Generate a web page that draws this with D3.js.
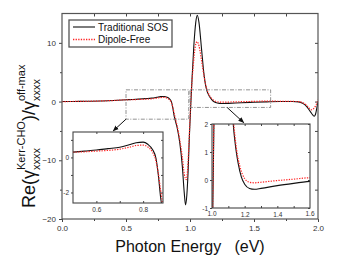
<!DOCTYPE html>
<html>
<head>
<meta charset="utf-8" />
<script src="https://cdn.jsdelivr.net/npm/d3@7"></script>
<style>
  html,body{margin:0;padding:0;background:#fff;}
  svg{display:block;font-family:"Liberation Sans",Arial,sans-serif;}
  .tick text{fill:#333;}
</style>
</head>
<body>
<svg id="svg" width="341" height="262"></svg>
<script>
// photon energy (eV) and Re(gamma) ratio
const sosE = [0,0.1,0.2,0.3,0.4,0.5,0.55,0.6,0.65,0.7,0.74,0.77,0.8,0.82,0.84,0.855,0.865,0.875,0.885,0.9,0.92,0.94,0.955,0.965,0.975,0.985,0.995,1.005,1.015,1.03,1.045,1.057,1.07,1.09,1.11,1.12,1.13,1.14,1.15,1.16,1.18,1.2,1.23,1.26,1.3,1.4,1.5,1.6,1.7,1.8,1.85,1.88,1.91,1.94,1.96,1.97,1.98,1.99,2.0];
const sosV = [0,0.02,0.05,0.1,0.18,0.3,0.36,0.42,0.5,0.58,0.72,0.84,0.87,0.75,0.45,-0.05,-1.0,-2.3,-3.2,-4.5,-7,-11,-15.5,-17.6,-16,-12,-6,-1,3.5,9.5,13.5,14.7,13.5,9,4.5,3.0,2.0,1.4,0.95,0.6,0.1,-0.15,-0.3,-0.33,-0.3,-0.2,-0.12,-0.05,0,0,-0.05,-0.3,-0.8,-1.7,-2.3,-2.5,-2.2,-1.2,0];
const dfE  = [0,0.1,0.2,0.3,0.4,0.5,0.55,0.6,0.65,0.7,0.74,0.77,0.8,0.82,0.84,0.855,0.865,0.875,0.885,0.9,0.92,0.94,0.955,0.97,0.98,0.99,1.0,1.01,1.025,1.04,1.055,1.07,1.09,1.11,1.12,1.13,1.14,1.15,1.17,1.2,1.23,1.26,1.3,1.4,1.5,1.6,1.7,1.8,1.85,1.88,1.91,1.93,1.95,1.97,1.99,2.0];
const dfV  = [0,0.02,0.05,0.1,0.18,0.3,0.32,0.36,0.4,0.47,0.58,0.68,0.7,0.6,0.3,-0.2,-0.9,-1.9,-2.8,-4.2,-6.5,-9.5,-12.3,-13.3,-12,-8,-3,1.5,6,9.2,10.2,9.5,7,4.3,3.1,2.2,1.6,1.1,0.5,0.05,-0.08,-0.1,-0.08,-0.02,0.03,0.08,0.05,0.02,0,-0.2,-0.6,-1.1,-1.4,-1.1,-0.3,0.3];

const seriesNames = ['Traditional SOS','Dipole-Free'];
const xTicks = [0,0.5,1.0,1.5,2.0];
const yTicks = [-20,-10,0,10];
// zoom boxes [x0,x1,y0,y1] in data units, and arrows [[x,y],[x,y]]
const boxes  = [[0.5,0.99,-3,2],[1.0,1.63,-1,2]];
const arrows = [[[0.5,-3],[0.4,-5]],[[1.29,-1],[1.42,-3.6]]];

const sos = sosE.map((e,i)=>[e,sosV[i]]);
const df  = dfE.map((e,i)=>[e,dfV[i]]);

const svg = d3.select('#svg');
const defs = svg.append('defs');
defs.append('marker').attr('id','arr').attr('viewBox','0 0 10 10')
  .attr('refX',9).attr('refY',5).attr('markerWidth',6).attr('markerHeight',6)
  .attr('orient','auto').append('path').attr('d','M0,1L10,5L0,9z').attr('fill','#111');

const x = d3.scaleLinear([0,2],[62,318]);
const y = d3.scaleLinear([-20,15],[219,13.5]);

function lineFor(sx,sy){return d3.line().x(d=>sx(d[0])).y(d=>sy(d[1])).curve(d3.curveMonotoneX);}

function drawCurves(g,sx,sy,id){
  const [x0,x1]=sx.range(), [y0,y1]=sy.range();
  defs.append('clipPath').attr('id',id).append('rect')
    .attr('x',x0).attr('y',y1).attr('width',x1-x0).attr('height',y0-y1);
  const c=g.append('g').attr('clip-path',`url(#${id})`);
  c.append('path').datum(sos).attr('d',lineFor(sx,sy)).attr('fill','none')
    .attr('stroke','#111').attr('stroke-width',1.1);
  c.append('path').datum(df).attr('d',lineFor(sx,sy)).attr('fill','none')
    .attr('stroke','#f22').attr('stroke-width',1.2).attr('stroke-dasharray','1.3,1.3');
}

function styleAxis(a){a.select('.domain').remove();a.selectAll('line').attr('stroke','#444');}

// main axes
const main=svg.append('g');
const fs=8;
main.append('g').attr('transform',`translate(0,${y(-20)})`)
  .call(d3.axisBottom(x).tickValues(xTicks).tickFormat(d3.format('.1f')).tickSize(3).tickPadding(3))
  .call(styleAxis).selectAll('text').attr('font-size',fs);
main.append('g').attr('transform',`translate(0,${y(-20)})`)
  .call(d3.axisBottom(x).tickValues([0.25,0.75,1.25,1.75]).tickFormat('').tickSize(2)).call(styleAxis);
main.append('g').attr('transform',`translate(0,${y(15)})`)
  .call(d3.axisBottom(x).tickValues(d3.range(0.25,2,0.25)).tickFormat('').tickSize(3)).call(styleAxis);
main.append('g').attr('transform',`translate(${x(0)},0)`)
  .call(d3.axisLeft(y).tickValues(yTicks).tickFormat(d3.format('d')).tickSize(3).tickPadding(3))
  .call(styleAxis).selectAll('text').attr('font-size',fs);
main.append('g').attr('transform',`translate(${x(0)},0)`)
  .call(d3.axisLeft(y).tickValues([-15,-5,5]).tickFormat('').tickSize(2)).call(styleAxis);
main.append('g').attr('transform',`translate(${x(2)},0)`)
  .call(d3.axisLeft(y).tickValues([-15,-10,-5,0,5,10]).tickFormat('').tickSize(3)).call(styleAxis);

drawCurves(main,x,y,'clipMain');

main.append('rect').attr('x',x(0)).attr('y',y(15)).attr('width',x(2)-x(0)).attr('height',y(-20)-y(15))
  .attr('fill','none').attr('stroke','#555').attr('stroke-width',1.2);

// zoom boxes + arrows
main.selectAll('.zbox').data(boxes).enter().append('rect').attr('class','zbox')
  .attr('x',d=>x(d[0])).attr('y',d=>y(d[3])).attr('width',d=>x(d[1])-x(d[0])).attr('height',d=>y(d[2])-y(d[3]))
  .attr('fill','none').attr('stroke','#777').attr('stroke-width',0.8).attr('stroke-dasharray','4,1.5,1,1.5');
main.selectAll('.arr').data(arrows).enter().append('line').attr('class','arr')
  .attr('x1',d=>x(d[0][0])).attr('y1',d=>y(d[0][1])).attr('x2',d=>x(d[1][0])).attr('y2',d=>y(d[1][1]))
  .attr('stroke','#111').attr('stroke-width',1).attr('marker-end','url(#arr)');

// legend
const lg=svg.append('g');
lg.append('rect').attr('x',69).attr('y',20).attr('width',103).attr('height',27)
  .attr('fill','#fff').attr('stroke','#555').attr('stroke-width',1.3);
seriesNames.forEach((n,i)=>{
  const yy=27+i*12.5;
  lg.append('line').attr('x1',73).attr('x2',95).attr('y1',yy).attr('y2',yy)
    .attr('stroke',i?'#f22':'#111').attr('stroke-width',i?1.3:1.1).attr('stroke-dasharray',i?'1.3,1.3':null);
  lg.append('text').attr('x',98).attr('y',yy+3.6).attr('font-size',10).attr('fill','#111').text(n);
});

// insets
function inset(xd,yd,xr,yr,xt,xl,yt,yl,id){
  const sx=d3.scaleLinear(xd,xr), sy=d3.scaleLinear(yd,yr);
  const g=svg.append('g');
  g.append('rect').attr('x',xr[0]).attr('y',yr[1]).attr('width',xr[1]-xr[0]).attr('height',yr[0]-yr[1]).attr('fill','#fff');
  const lab=d=>xl.includes(d)?d3.format('.1f')(d):'';
  g.append('g').attr('transform',`translate(0,${yr[0]})`)
    .call(d3.axisTop(sx).tickValues(xt).tickFormat('').tickSize(2)).call(styleAxis);
  g.append('g').attr('transform',`translate(0,${yr[0]})`)
    .call(d3.axisBottom(sx).tickValues(xt).tickFormat(lab).tickSize(0).tickPadding(4)).call(styleAxis)
    .selectAll('text').attr('font-size',6.5);
  g.append('g').attr('transform',`translate(0,${yr[1]})`)
    .call(d3.axisBottom(sx).tickValues(xt).tickFormat('').tickSize(2)).call(styleAxis);
  g.append('g').attr('transform',`translate(${xr[0]},0)`)
    .call(d3.axisLeft(sy).tickValues(yt).tickFormat(d=>yl.includes(d)?d:'').tickSize(2).tickPadding(2)).call(styleAxis)
    .selectAll('text').attr('font-size',6.5);
  g.append('g').attr('transform',`translate(${xr[1]},0)`)
    .call(d3.axisLeft(sy).tickValues(yt).tickFormat('').tickSize(2)).call(styleAxis);
  drawCurves(g,sx,sy,id);
  g.append('rect').attr('x',xr[0]).attr('y',yr[1]).attr('width',xr[1]-xr[0]).attr('height',yr[0]-yr[1])
    .attr('fill','none').attr('stroke','#444').attr('stroke-width',1.1);
}
inset([0.5,0.885],[-2.6,1.45],[73,163],[203,132],[0.6,0.7,0.8],[0.6,0.8],[-2,-1,0,1],[-2,0],'clipA');
inset([1.0,1.6],[-1,2],[212,310],[208,124],[1.1,1.2,1.3,1.4,1.5],[1.0,1.2,1.4,1.6],[-1,0,1,2],[-1,0,1,2],'clipB');
// end labels of inset B that sit on the frame corners
svg.append('g').selectAll('text').data([1.0,1.6]).enter().append('text')
  .attr('x',d=>d3.scaleLinear([1.0,1.6],[212,310])(d)).attr('y',216).attr('text-anchor','middle')
  .attr('font-size',6.5).attr('fill','#333').text(d=>d3.format('.1f')(d));

// axis titles
svg.append('text').attr('x',190).attr('y',252).attr('text-anchor','middle').attr('font-size',16)
  .attr('fill','#111').attr('xml:space','preserve').text('Photon Energy   (eV)');

const yl=svg.append('g').attr('transform','translate(35,208) rotate(-90)').attr('fill','#111');
let cx=0;
function put(t,size,dy){
  const e=yl.append('text').attr('x',cx).attr('y',dy).attr('font-size',size).text(t);
  return e.node().getComputedTextLength();
}
cx+=put('Re(γ',18,0);
const w1=put('Kerr-CHO',11,-10);
put('xxxx',11,5);
cx+=w1;
cx+=put(')/γ',18,0);
const w2=put('off-max',11,-10);
put('xxxx',11,5);
</script>
</body>
</html>
